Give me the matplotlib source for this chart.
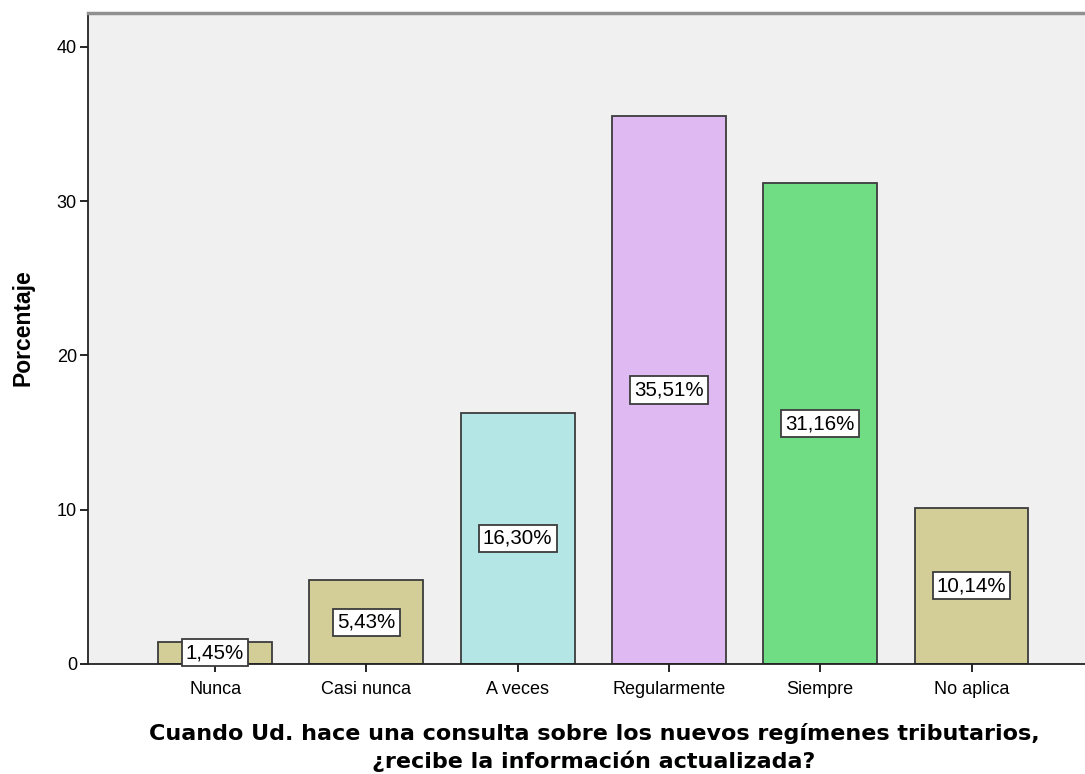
import matplotlib.pyplot as plt

plt.rcParams['font.family'] = ['Liberation Sans', 'DejaVu Sans']

# Data
categorias = ['Nunca', 'Casi nunca', 'A veces', 'Regularmente', 'Siempre', 'No aplica']
porcentajes = [1.45, 5.43, 16.30, 35.51, 31.16, 10.14]
etiquetas = ['1,45%', '5,43%', '16,30%', '35,51%', '31,16%', '10,14%']
colores = ['#D3CE97', '#D3CE97', '#B4E6E6', '#DFB9F2', '#70DD84', '#D3CE97']
titulo_x = ['Cuando Ud. hace una consulta sobre los nuevos regímenes tributarios,',
            '¿recibe la información actualizada?']

W, H = 1085, 774
fig = plt.figure(figsize=(W/100, H/100), dpi=100)
ax = fig.add_axes([88/W, 1-664/H, 1-88/W, (664-13)/H])
ax.set_facecolor('#F0F0F0')

x = range(len(categorias))
ax.bar(x, porcentajes, width=0.753, color=colores, edgecolor='#3C3C3C', linewidth=1.3, zorder=2)

# Value labels in the middle of each bar
for i, (v, t) in enumerate(zip(porcentajes, etiquetas)):
    ax.text(i, v/2, t, ha='center', va='center', fontsize=14.8, zorder=3,
            bbox=dict(boxstyle='square,pad=0.2', facecolor='white', edgecolor='#3C3C3C', linewidth=1.3))

ax.set_xlim(-0.84, 5.75)
ax.set_ylim(0, 42.2)
ax.set_yticks([0, 10, 20, 30, 40])
ax.set_xticks(list(x))
ax.set_xticklabels(categorias, fontsize=13)
ax.tick_params(axis='y', labelsize=13, length=6, width=1.2, pad=2)
ax.tick_params(axis='x', length=6, width=1.2, pad=6)

ax.spines['right'].set_visible(False)
ax.spines['top'].set_color('#909090')
ax.spines['top'].set_linewidth(2.5)
ax.spines['left'].set_color('#222222')
ax.spines['bottom'].set_color('#222222')
ax.spines['left'].set_linewidth(1.3)
ax.spines['bottom'].set_linewidth(1.3)

# Axis titles
fig.text(23/W, 1-328/H, 'Porcentaje', rotation=90, ha='center', va='center',
         fontsize=16.5, fontweight='bold')
fig.text(594/W, 1-740/H, titulo_x[0], ha='center', va='baseline',
         fontsize=16, fontweight='bold', family='DejaVu Sans')
fig.text(594/W, 1-768/H, titulo_x[1], ha='center', va='baseline',
         fontsize=16, fontweight='bold', family='DejaVu Sans')

fig.savefig('out.png', dpi=100)
